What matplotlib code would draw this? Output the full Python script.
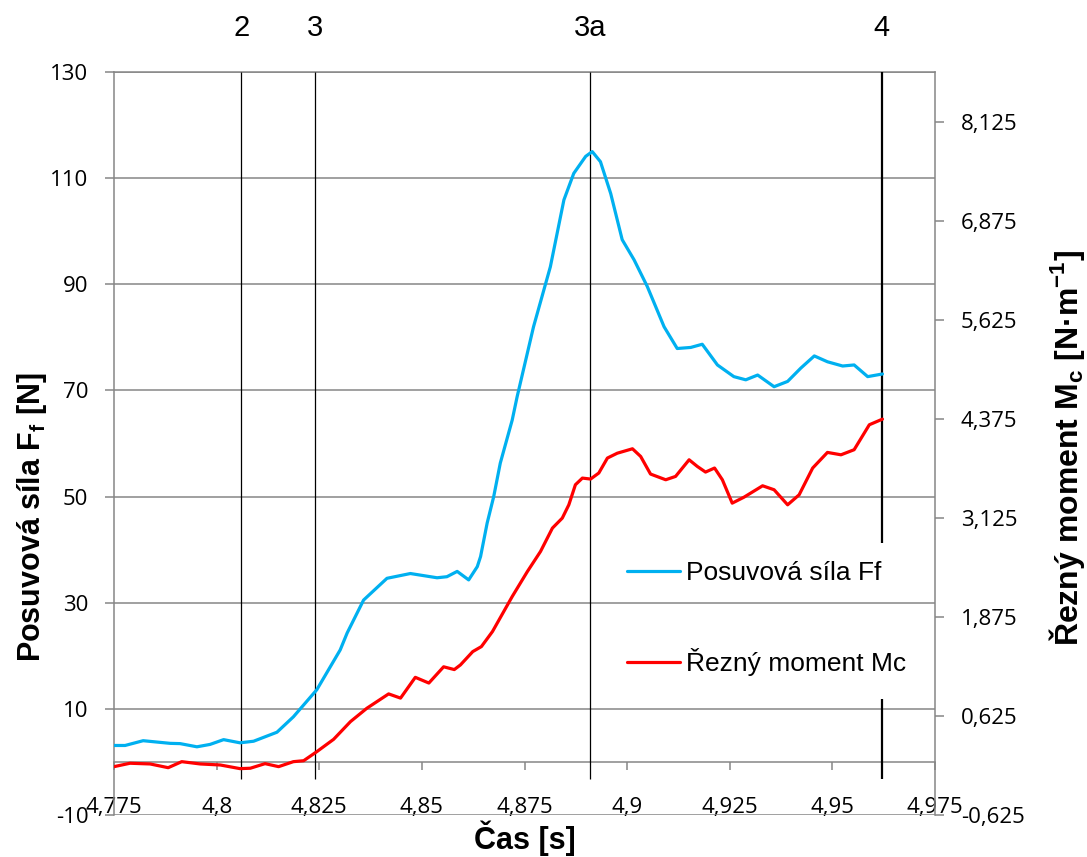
# -*- coding: utf-8 -*-

import matplotlib
matplotlib.use('Agg')
import matplotlib.pyplot as plt
import matplotlib.transforms as mtransforms
from matplotlib.ticker import FixedLocator, FixedFormatter

# posuvova sila Ff [N] (leva osa)
t_ff = [4.7750, 4.7777, 4.7821, 4.7887, 4.7911, 4.7952, 4.7984, 4.8017, 4.8057, 4.8090,
        4.8147, 4.8187, 4.8244, 4.8301, 4.8318, 4.8358, 4.8415, 4.8472, 4.8537, 4.8561,
        4.8586, 4.8614, 4.8635, 4.8643, 4.8659, 4.8675, 4.8691, 4.8720, 4.8732, 4.8772,
        4.8813, 4.8846, 4.8870, 4.8899, 4.8915, 4.8935, 4.8960, 4.8988, 4.9017, 4.9049,
        4.9090, 4.9122, 4.9155, 4.9183, 4.9220, 4.9260, 4.9289, 4.9318, 4.9358, 4.9391,
        4.9423, 4.9456, 4.9488, 4.9525, 4.9553, 4.9586, 4.9622]
ff = [3.1, 3.1, 4.0, 3.5, 3.45, 2.85, 3.3, 4.2, 3.6, 3.9,
      5.6, 8.5, 13.6, 21.1, 24.3, 30.5, 34.6, 35.5, 34.7, 34.9,
      35.9, 34.3, 36.8, 38.7, 45.0, 50.0, 56.3, 64.4, 68.8, 82.0,
      93.3, 105.9, 110.9, 114.1, 115.0, 113.1, 107.1, 98.4, 94.6, 89.6,
      82.0, 77.9, 78.1, 78.7, 74.8, 72.6, 72.0, 72.9, 70.7, 71.7,
      74.2, 76.5, 75.4, 74.6, 74.8, 72.6, 73.1]

# rezny moment Mc [N.m-1] (prava osa)
t_mc = [4.7750, 4.7789, 4.7838, 4.7882, 4.7915, 4.7960, 4.8009, 4.8057, 4.8082, 4.8118,
        4.8151, 4.8187, 4.8212, 4.8244, 4.8285, 4.8326, 4.8366, 4.8419, 4.8448, 4.8484,
        4.8517, 4.8553, 4.8579, 4.8594, 4.8624, 4.8645, 4.8672, 4.8720, 4.8757, 4.8789,
        4.8818, 4.8842, 4.8858, 4.8874, 4.8891, 4.8911, 4.8931, 4.8952, 4.8976, 4.9013,
        4.9033, 4.9057, 4.9094, 4.9118, 4.9151, 4.9171, 4.9191, 4.9213, 4.9232, 4.9256,
        4.9285, 4.9330, 4.9358, 4.9391, 4.9419, 4.9452, 4.9488, 4.9521, 4.9553, 4.9590,
        4.9622]
mc = [-0.015, 0.028, 0.019, -0.028, 0.048, 0.019, 0.006, -0.040, -0.035, 0.023,
      -0.015, 0.048, 0.060, 0.174, 0.330, 0.553, 0.722, 0.903, 0.850, 1.112,
      1.040, 1.245, 1.210, 1.269, 1.437, 1.500, 1.690, 2.131, 2.447, 2.700,
      2.995, 3.121, 3.289, 3.542, 3.626, 3.614, 3.690, 3.879, 3.940, 3.996,
      3.899, 3.677, 3.605, 3.647, 3.857, 3.773, 3.702, 3.753, 3.605, 3.310,
      3.386, 3.529, 3.479, 3.289, 3.415, 3.753, 3.950, 3.920, 3.984, 4.299,
      4.370]

# svisle znacky faze
mark_t = [4.806, 4.824, 4.891, 4.962]
mark_labels = ['2', '3', '3a', '4']

x_ticks = [4.775, 4.8, 4.825, 4.85, 4.875, 4.9, 4.925, 4.95, 4.975]
x_tick_labels = ['4,775', '4,8', '4,825', '4,85', '4,875', '4,9', '4,925', '4,95', '4,975']
left_ticks = [-10, 10, 30, 50, 70, 90, 110, 130]
right_ticks = [-0.625, 0.625, 1.875, 3.125, 4.375, 5.625, 6.875, 8.125]
right_tick_labels = ['-0,625', '0,625', '1,875', '3,125', '4,375', '5,625', '6,875', '8,125']

plt.rcParams['mathtext.fontset'] = 'custom'
plt.rcParams['mathtext.rm'] = 'Liberation Sans'
plt.rcParams['mathtext.bf'] = 'Liberation Sans:bold'

GRAY = '#868686'
BLUE = '#00B0F0'
RED = '#FF0000'
W, H = 1087.0, 857.0

fig = plt.figure(figsize=(W / 100, H / 100), dpi=100)
ax = fig.add_axes([114 / W, 1 - 815 / H, (935 - 114) / W, (815 - 72) / H])
ax.set_xlim(4.775, 4.975)
ax.set_ylim(-10, 130)

# mrizka
ax.yaxis.set_major_locator(FixedLocator(left_ticks))
ax.yaxis.set_major_formatter(FixedFormatter([str(v) for v in left_ticks]))
ax.grid(True, axis='y', color=GRAY, linewidth=1.1)
ax.set_axisbelow(True)

ax.xaxis.set_major_locator(FixedLocator(x_ticks))
ax.xaxis.set_major_formatter(FixedFormatter(x_tick_labels))

ax.spines['bottom'].set_position(('data', 0))
for s in ['bottom', 'left', 'top']:
  ax.spines[s].set_color(GRAY)
  ax.spines[s].set_linewidth(1.1)
ax.spines['right'].set_visible(False)

ax.tick_params(axis='x', direction='out', length=6, width=1.1, color=GRAY, pad=19,
               labelsize=16, labelfontfamily='Open Sans')
ax.tick_params(axis='y', direction='out', length=6.5, width=1.1, color=GRAY, pad=12,
               labelsize=16, labelfontfamily='Open Sans')

# svisle cary + popisky nahore
top_trans = mtransforms.blended_transform_factory(ax.transData, fig.transFigure)
for t, lab in zip(mark_t, mark_labels):
  if lab == '4':
    ax.vlines(t, 41.2, 130.4, color='black', linewidth=1.6, zorder=3)
    ax.vlines(t, -3.2, 11.9, color='black', linewidth=1.6, zorder=3)
  else:
    ax.vlines(t, -3.2, 130, color='black', linewidth=0.9, zorder=3)
  ax.text(t, 1 - 28 / H, lab, transform=top_trans, fontsize=21,
          family='Liberation Sans', ha='center', va='center')

l1, = ax.plot(t_ff, ff, color=BLUE, linewidth=2.3, solid_joinstyle='round',
              solid_capstyle='round', zorder=4)

ax2 = ax.twinx()
ax2.set_ylim(-0.625, 8.75)
ax2.yaxis.set_major_locator(FixedLocator(right_ticks))
ax2.yaxis.set_major_formatter(FixedFormatter(right_tick_labels))
for s in ['bottom', 'left', 'top']:
  ax2.spines[s].set_visible(False)
ax2.spines['right'].set_color(GRAY)
ax2.spines['right'].set_linewidth(1.1)
ax2.tick_params(axis='y', direction='out', length=6.5, width=1.1, color=GRAY, pad=12,
                labelsize=16, labelfontfamily='Open Sans')
l2, = ax2.plot(t_mc, mc, color=RED, linewidth=2.3, solid_joinstyle='round',
               solid_capstyle='round', zorder=4)

fig.legend([l1, l2], ['Posuvová síla Ff', 'Řezný moment Mc'],
           loc='upper left', bbox_to_anchor=(627 / W, 1 - 561 / H),
           bbox_transform=fig.transFigure, frameon=False, borderpad=0,
           borderaxespad=0, handlelength=2.0, handletextpad=0.25,
           labelspacing=2.4, prop={'family': 'Liberation Sans', 'size': 19})

# popisky os
fig.text(525 / W, 1 - 838 / H, 'Čas [s]', ha='center', va='center',
         fontsize=22, fontweight='bold', family='Liberation Sans')
fig.text(32 / W, 1 - 517 / H, r'Posuvová síla $\mathbf{F_f}$ [N]', ha='center',
         va='center', rotation=90, fontsize=22, fontweight='bold',
         family='Liberation Sans')
fig.text(1067 / W, 1 - 448 / H, r'Řezný moment $\mathbf{M_c}$ [N·m$^{\mathbf{-1}}$]',
         ha='center', va='center', rotation=90, fontsize=23, fontweight='bold',
         family='Liberation Sans')

fig.savefig('out.png', dpi=100)
